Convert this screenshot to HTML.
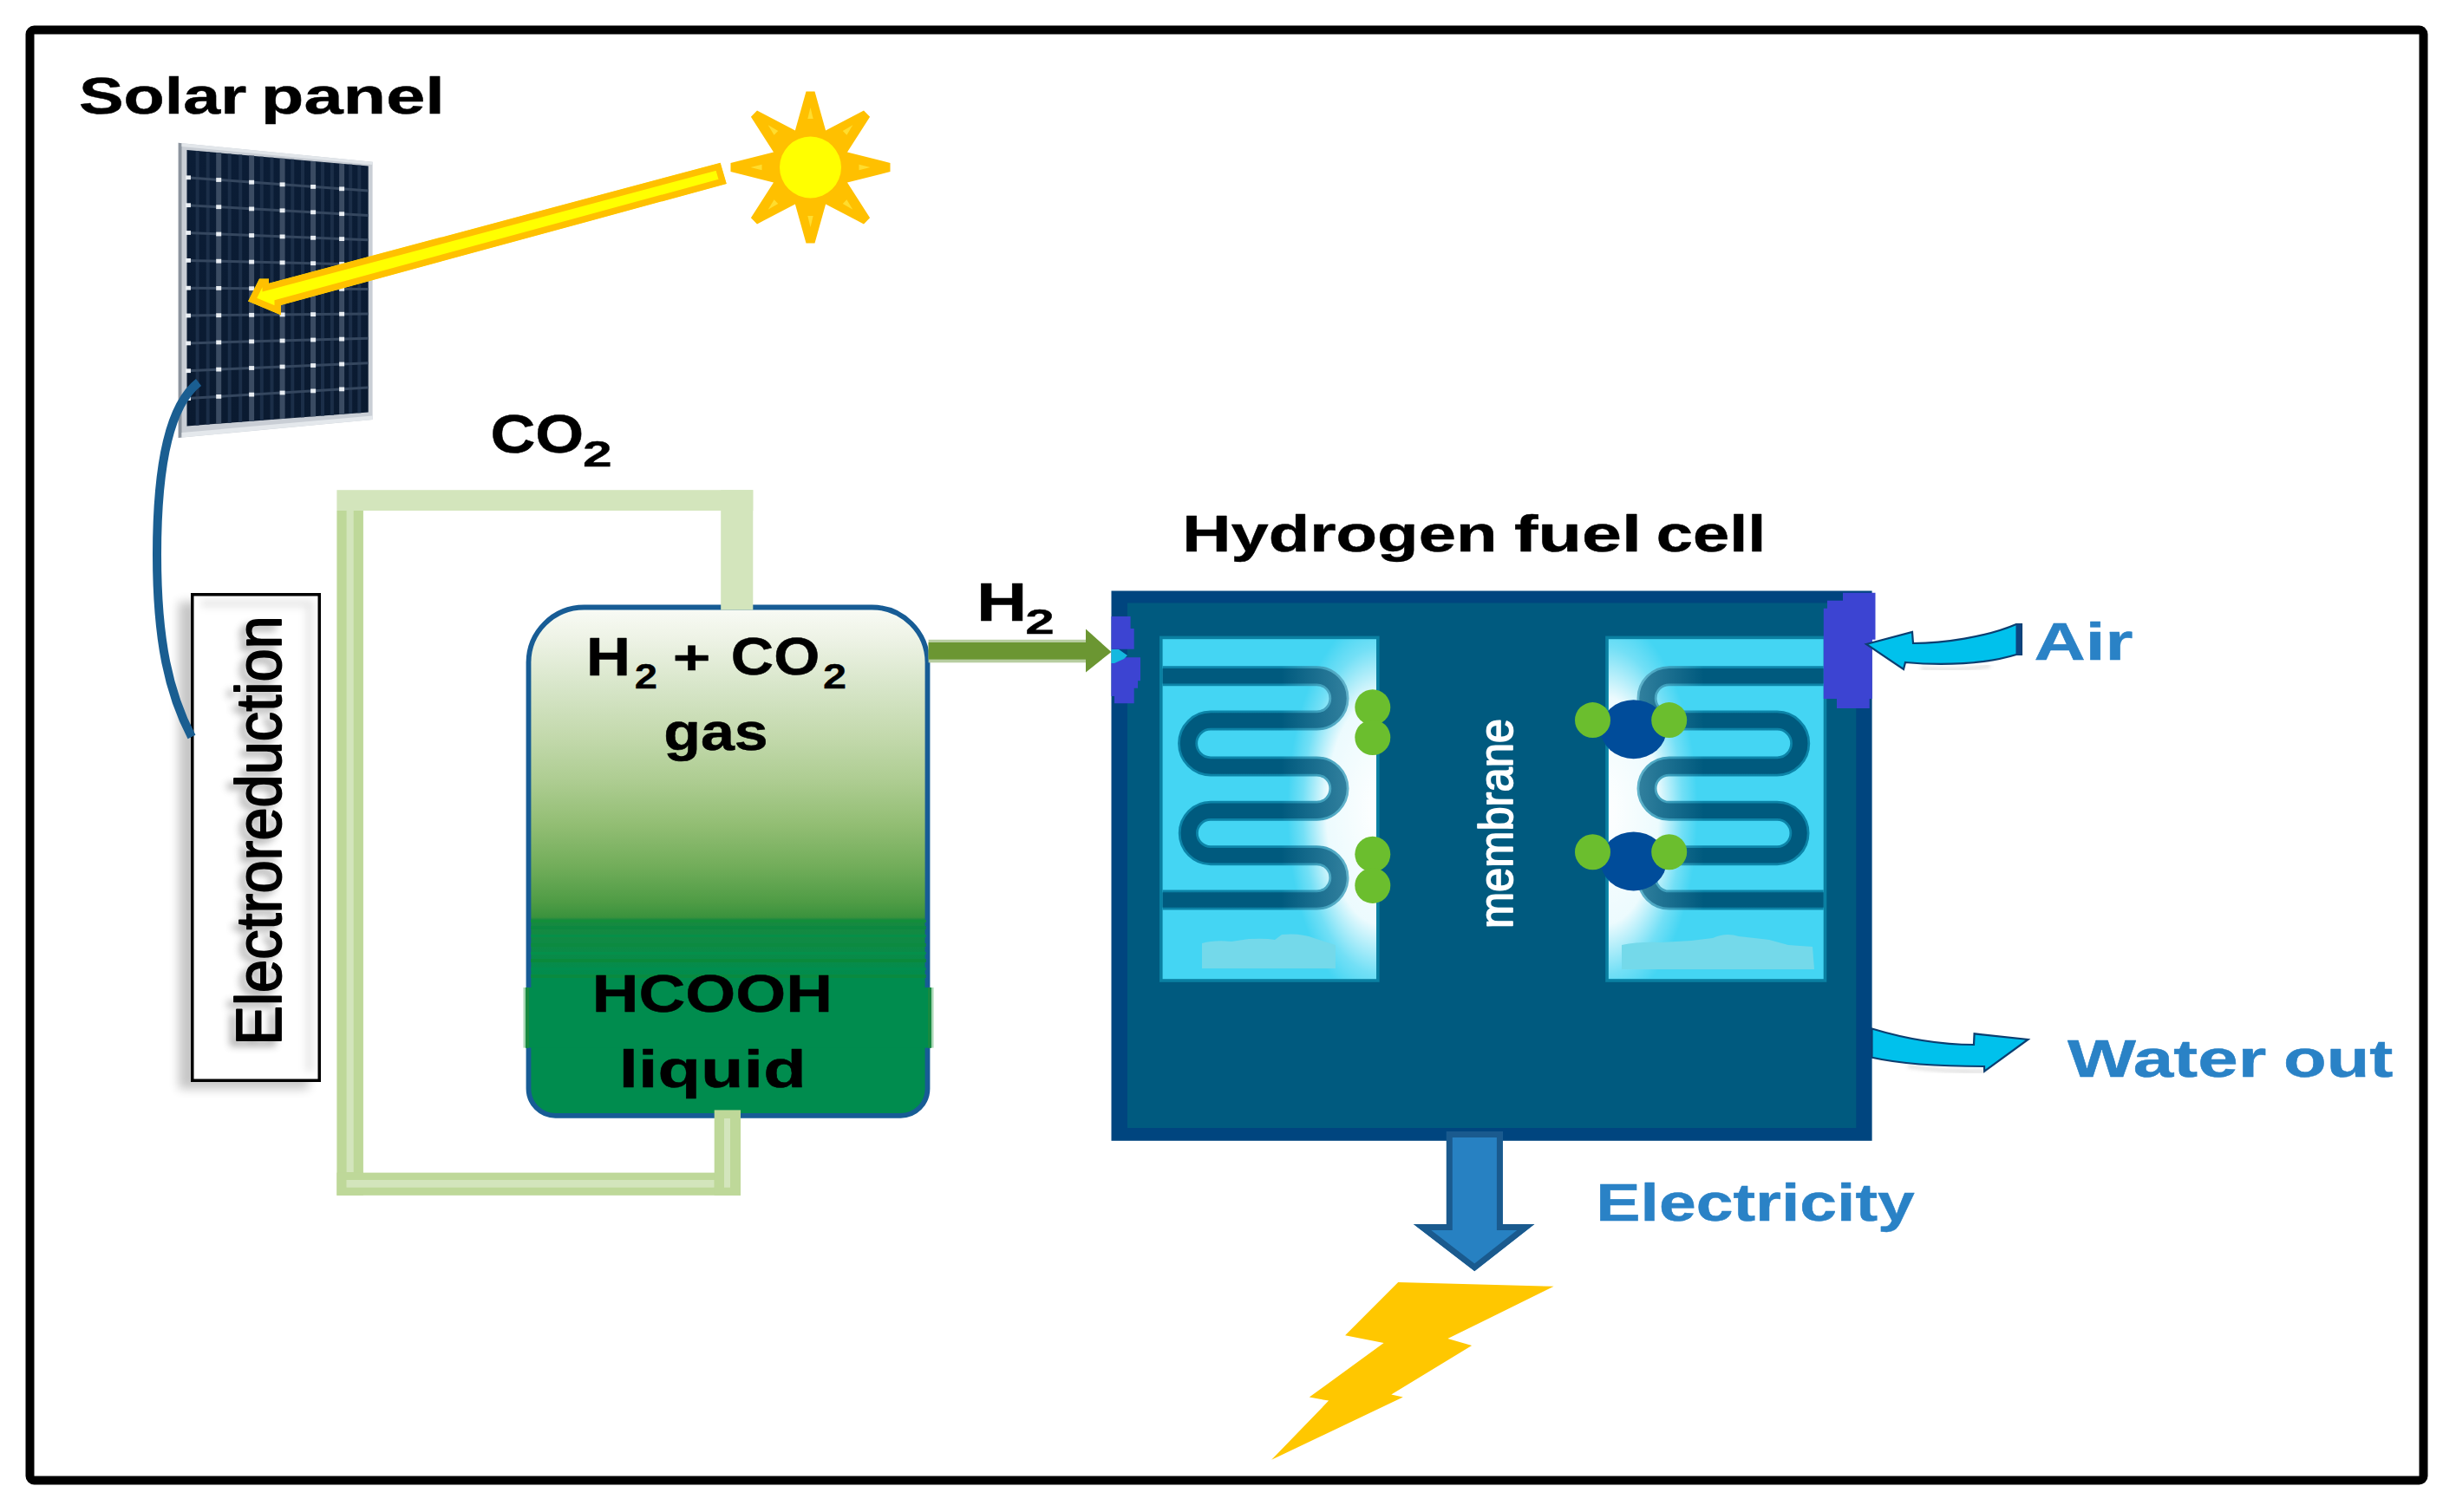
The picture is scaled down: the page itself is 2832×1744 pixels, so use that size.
<!DOCTYPE html>
<html><head><meta charset="utf-8"><title>Solar to hydrogen fuel cell diagram</title>
<style>html,body{margin:0;padding:0;background:#fff;}body{width:2832px;height:1744px;overflow:hidden;font-family:"Liberation Sans",sans-serif;}svg{display:block;}</style>
</head><body>
<svg width="2832" height="1744" viewBox="0 0 2832 1744">
<defs>
 <linearGradient id="tankG" x1="0" y1="700" x2="0" y2="1287" gradientUnits="userSpaceOnUse">
  <stop offset="0" stop-color="#F9FBF6"/>
  <stop offset="0.06" stop-color="#EEF3E6"/>
  <stop offset="0.153" stop-color="#D8E6CA"/>
  <stop offset="0.255" stop-color="#C3D9AC"/>
  <stop offset="0.34" stop-color="#AECD92"/>
  <stop offset="0.426" stop-color="#93BE74"/>
  <stop offset="0.51" stop-color="#72AD5A"/>
  <stop offset="0.58" stop-color="#4F9C45"/>
  <stop offset="0.61" stop-color="#3A923D"/>
  <stop offset="0.615" stop-color="#17893F"/>
  <stop offset="0.73" stop-color="#008C4E"/>
  <stop offset="1" stop-color="#008C4E"/>
 </linearGradient>
 <linearGradient id="cellG" x1="0" y1="170" x2="0" y2="495" gradientUnits="userSpaceOnUse">
  <stop offset="0" stop-color="#0B1D36"/>
  <stop offset="1" stop-color="#0A1A30"/>
 </linearGradient>
 <radialGradient id="glowL" cx="1592" cy="935" r="125" gradientUnits="userSpaceOnUse" gradientTransform="translate(1592 935) scale(1 2.1) translate(-1592 -935)">
  <stop offset="0" stop-color="#FFFFFF" stop-opacity="1"/>
  <stop offset="0.5" stop-color="#FFFFFF" stop-opacity="0.9"/>
  <stop offset="0.72" stop-color="#FFFFFF" stop-opacity="0.25"/>
  <stop offset="0.86" stop-color="#FFFFFF" stop-opacity="0"/>
 </radialGradient>
 <radialGradient id="glowR" cx="1850" cy="935" r="125" gradientUnits="userSpaceOnUse" gradientTransform="translate(1850 935) scale(1 2.1) translate(-1850 -935)">
  <stop offset="0" stop-color="#FFFFFF" stop-opacity="1"/>
  <stop offset="0.5" stop-color="#FFFFFF" stop-opacity="0.9"/>
  <stop offset="0.72" stop-color="#FFFFFF" stop-opacity="0.25"/>
  <stop offset="0.86" stop-color="#FFFFFF" stop-opacity="0"/>
 </radialGradient>
 <linearGradient id="tubeL" x1="1340" y1="0" x2="1590" y2="0" gradientUnits="userSpaceOnUse">
  <stop offset="0" stop-color="#005A7E"/>
  <stop offset="0.55" stop-color="#005A7E"/>
  <stop offset="1" stop-color="#4A93AE"/>
 </linearGradient>
 <linearGradient id="tubeR" x1="2102" y1="0" x2="1852" y2="0" gradientUnits="userSpaceOnUse">
  <stop offset="0" stop-color="#005A7E"/>
  <stop offset="0.55" stop-color="#005A7E"/>
  <stop offset="1" stop-color="#4A93AE"/>
 </linearGradient>
 <linearGradient id="tubeLe" x1="1340" y1="0" x2="1590" y2="0" gradientUnits="userSpaceOnUse">
  <stop offset="0" stop-color="#0C84A8"/>
  <stop offset="0.55" stop-color="#0C84A8"/>
  <stop offset="1" stop-color="#8CCADC"/>
 </linearGradient>
 <linearGradient id="tubeRe" x1="2102" y1="0" x2="1852" y2="0" gradientUnits="userSpaceOnUse">
  <stop offset="0" stop-color="#0C84A8"/>
  <stop offset="0.55" stop-color="#0C84A8"/>
  <stop offset="1" stop-color="#8CCADC"/>
 </linearGradient>
 <clipPath id="chL"><rect x="1340.6" y="737.2" width="246.4" height="392.5"/></clipPath>
 <clipPath id="chR"><rect x="1854.8" y="737.2" width="247.9" height="391.5"/></clipPath>
 <filter id="blur4" x="-20%" y="-20%" width="140%" height="140%"><feGaussianBlur stdDeviation="4"/></filter>
 <filter id="blur6" x="-20%" y="-20%" width="140%" height="140%"><feGaussianBlur stdDeviation="6"/></filter>
 <filter id="blur2" x="-20%" y="-20%" width="140%" height="140%"><feGaussianBlur stdDeviation="2"/></filter>
</defs>

<rect x="34.5" y="34.5" width="2760" height="1673" rx="5" fill="none" stroke="#000" stroke-width="10"/>
<polygon points="205.7,164.7 429.6,186.7 429.6,484.0 205.7,504.9" fill="#C9CED5"/>
<polygon points="205.7,164.7 209.5,165.2 209.5,504.5 205.7,504.9" fill="#8C949E"/>
<polygon points="209.5,165.2 429.6,186.7 429.6,190.0 209.5,169.0" fill="#E2E6EA"/>
<polygon points="209.5,499.0 429.6,479.5 429.6,484.0 209.5,504.5" fill="#E4E8EC"/>
<polygon points="215.5,173.0 424.7,191.6 424.7,475.5 215.5,491.4" fill="url(#cellG)"/>
<line x1="227.6" y1="174.1" x2="227.6" y2="490.5" stroke="#1B2E48" stroke-width="4"/>
<line x1="239.7" y1="175.2" x2="239.7" y2="489.6" stroke="#1B2E48" stroke-width="4"/>
<line x1="264.7" y1="177.4" x2="264.7" y2="487.7" stroke="#1B2E48" stroke-width="4"/>
<line x1="277.2" y1="178.5" x2="277.2" y2="486.7" stroke="#1B2E48" stroke-width="4"/>
<line x1="301.8" y1="180.7" x2="301.8" y2="484.8" stroke="#1B2E48" stroke-width="4"/>
<line x1="313.5" y1="181.7" x2="313.5" y2="483.9" stroke="#1B2E48" stroke-width="4"/>
<line x1="337.3" y1="183.8" x2="337.3" y2="482.1" stroke="#1B2E48" stroke-width="4"/>
<line x1="349.0" y1="184.9" x2="349.0" y2="481.3" stroke="#1B2E48" stroke-width="4"/>
<line x1="372.0" y1="186.9" x2="372.0" y2="479.5" stroke="#1B2E48" stroke-width="4"/>
<line x1="382.9" y1="187.9" x2="382.9" y2="478.7" stroke="#1B2E48" stroke-width="4"/>
<line x1="404.2" y1="189.8" x2="404.2" y2="477.1" stroke="#1B2E48" stroke-width="4"/>
<line x1="414.3" y1="190.7" x2="414.3" y2="476.3" stroke="#1B2E48" stroke-width="4"/>
<line x1="252.2" y1="176.3" x2="252.2" y2="488.6" stroke="#3A4B62" stroke-width="6"/>
<line x1="290.1" y1="179.6" x2="290.1" y2="485.7" stroke="#3A4B62" stroke-width="6"/>
<line x1="325.6" y1="182.8" x2="325.6" y2="483.0" stroke="#3A4B62" stroke-width="6"/>
<line x1="361.1" y1="185.9" x2="361.1" y2="480.3" stroke="#3A4B62" stroke-width="6"/>
<line x1="394.1" y1="188.9" x2="394.1" y2="477.8" stroke="#3A4B62" stroke-width="6"/>
<line x1="215.5" y1="204.8" x2="424.7" y2="220.0" stroke="#34465E" stroke-width="3"/>
<line x1="215.5" y1="236.7" x2="424.7" y2="248.4" stroke="#34465E" stroke-width="3"/>
<line x1="215.5" y1="268.5" x2="424.7" y2="276.8" stroke="#34465E" stroke-width="3"/>
<line x1="215.5" y1="300.4" x2="424.7" y2="305.2" stroke="#34465E" stroke-width="3"/>
<line x1="215.5" y1="332.2" x2="424.7" y2="333.6" stroke="#34465E" stroke-width="3"/>
<line x1="215.5" y1="364.0" x2="424.7" y2="361.9" stroke="#34465E" stroke-width="3"/>
<line x1="215.5" y1="395.9" x2="424.7" y2="390.3" stroke="#34465E" stroke-width="3"/>
<line x1="215.5" y1="427.7" x2="424.7" y2="418.7" stroke="#34465E" stroke-width="3"/>
<line x1="215.5" y1="459.6" x2="424.7" y2="447.1" stroke="#34465E" stroke-width="3"/>
<rect x="214.0" y="202.4" width="6" height="4.8" fill="#E8EDF2"/>
<rect x="249.2" y="205.1" width="6" height="4.8" fill="#E8EDF2"/>
<rect x="287.1" y="207.8" width="6" height="4.8" fill="#E8EDF2"/>
<rect x="322.6" y="210.4" width="6" height="4.8" fill="#E8EDF2"/>
<rect x="358.1" y="213.0" width="6" height="4.8" fill="#E8EDF2"/>
<rect x="391.1" y="215.4" width="6" height="4.8" fill="#E8EDF2"/>
<rect x="214.0" y="234.3" width="6" height="4.8" fill="#E8EDF2"/>
<rect x="249.2" y="236.3" width="6" height="4.8" fill="#E8EDF2"/>
<rect x="287.1" y="238.5" width="6" height="4.8" fill="#E8EDF2"/>
<rect x="322.6" y="240.4" width="6" height="4.8" fill="#E8EDF2"/>
<rect x="358.1" y="242.4" width="6" height="4.8" fill="#E8EDF2"/>
<rect x="391.1" y="244.3" width="6" height="4.8" fill="#E8EDF2"/>
<rect x="214.0" y="266.1" width="6" height="4.8" fill="#E8EDF2"/>
<rect x="249.2" y="267.6" width="6" height="4.8" fill="#E8EDF2"/>
<rect x="287.1" y="269.1" width="6" height="4.8" fill="#E8EDF2"/>
<rect x="322.6" y="270.5" width="6" height="4.8" fill="#E8EDF2"/>
<rect x="358.1" y="271.9" width="6" height="4.8" fill="#E8EDF2"/>
<rect x="391.1" y="273.2" width="6" height="4.8" fill="#E8EDF2"/>
<rect x="214.0" y="298.0" width="6" height="4.8" fill="#E8EDF2"/>
<rect x="249.2" y="298.8" width="6" height="4.8" fill="#E8EDF2"/>
<rect x="287.1" y="299.7" width="6" height="4.8" fill="#E8EDF2"/>
<rect x="322.6" y="300.5" width="6" height="4.8" fill="#E8EDF2"/>
<rect x="358.1" y="301.3" width="6" height="4.8" fill="#E8EDF2"/>
<rect x="391.1" y="302.1" width="6" height="4.8" fill="#E8EDF2"/>
<rect x="214.0" y="329.8" width="6" height="4.8" fill="#E8EDF2"/>
<rect x="249.2" y="330.0" width="6" height="4.8" fill="#E8EDF2"/>
<rect x="287.1" y="330.3" width="6" height="4.8" fill="#E8EDF2"/>
<rect x="322.6" y="330.5" width="6" height="4.8" fill="#E8EDF2"/>
<rect x="358.1" y="330.7" width="6" height="4.8" fill="#E8EDF2"/>
<rect x="391.1" y="331.0" width="6" height="4.8" fill="#E8EDF2"/>
<rect x="214.0" y="361.6" width="6" height="4.8" fill="#E8EDF2"/>
<rect x="249.2" y="361.3" width="6" height="4.8" fill="#E8EDF2"/>
<rect x="287.1" y="360.9" width="6" height="4.8" fill="#E8EDF2"/>
<rect x="322.6" y="360.5" width="6" height="4.8" fill="#E8EDF2"/>
<rect x="358.1" y="360.2" width="6" height="4.8" fill="#E8EDF2"/>
<rect x="391.1" y="359.8" width="6" height="4.8" fill="#E8EDF2"/>
<rect x="214.0" y="393.5" width="6" height="4.8" fill="#E8EDF2"/>
<rect x="249.2" y="392.5" width="6" height="4.8" fill="#E8EDF2"/>
<rect x="287.1" y="391.5" width="6" height="4.8" fill="#E8EDF2"/>
<rect x="322.6" y="390.6" width="6" height="4.8" fill="#E8EDF2"/>
<rect x="358.1" y="389.6" width="6" height="4.8" fill="#E8EDF2"/>
<rect x="391.1" y="388.7" width="6" height="4.8" fill="#E8EDF2"/>
<rect x="214.0" y="425.3" width="6" height="4.8" fill="#E8EDF2"/>
<rect x="249.2" y="423.7" width="6" height="4.8" fill="#E8EDF2"/>
<rect x="287.1" y="422.1" width="6" height="4.8" fill="#E8EDF2"/>
<rect x="322.6" y="420.6" width="6" height="4.8" fill="#E8EDF2"/>
<rect x="358.1" y="419.1" width="6" height="4.8" fill="#E8EDF2"/>
<rect x="391.1" y="417.6" width="6" height="4.8" fill="#E8EDF2"/>
<rect x="214.0" y="457.2" width="6" height="4.8" fill="#E8EDF2"/>
<rect x="249.2" y="455.0" width="6" height="4.8" fill="#E8EDF2"/>
<rect x="287.1" y="452.7" width="6" height="4.8" fill="#E8EDF2"/>
<rect x="322.6" y="450.6" width="6" height="4.8" fill="#E8EDF2"/>
<rect x="358.1" y="448.5" width="6" height="4.8" fill="#E8EDF2"/>
<rect x="391.1" y="446.5" width="6" height="4.8" fill="#E8EDF2"/>
<clipPath id="yac"><polygon points="286.0,347.6 299.0,321.5 310.0,321.5 310.0,326.8 830.7,187.7 837.8,212.0 324.0,352.0 324.0,363.5"/></clipPath>
<polygon points="286.0,347.6 299.0,321.5 310.0,321.5 310.0,326.8 830.7,187.7 837.8,212.0 324.0,352.0 324.0,363.5" fill="#FFFF00" stroke="#FFC000" stroke-width="15" stroke-linejoin="miter" clip-path="url(#yac)"/>
<polygon points="929.5,105.5 939.5,105.5 952.1,150.5 996.0,127.6 1003.1,134.7 977.0,175.4 1026.5,188.0 1026.5,198.0 977.0,210.6 1003.1,251.3 996.0,258.4 952.1,235.5 939.5,280.5 929.5,280.5 916.9,235.5 873.0,258.4 865.9,251.3 892.0,210.6 842.5,198.0 842.5,188.0 892.0,175.4 865.9,134.7 873.0,127.6 916.9,150.5" fill="#FFC000"/>
<polygon points="934.5,124.0 937.7,137.0 931.3,137.0" fill="#FFDD2E"/>
<polygon points="983.3,144.2 976.4,155.7 971.8,151.1" fill="#FFDD2E"/>
<polygon points="1003.5,193.0 990.5,196.2 990.5,189.8" fill="#FFDD2E"/>
<polygon points="983.3,241.8 971.8,234.9 976.4,230.3" fill="#FFDD2E"/>
<polygon points="934.5,262.0 931.3,249.0 937.7,249.0" fill="#FFDD2E"/>
<polygon points="885.7,241.8 892.6,230.3 897.2,234.9" fill="#FFDD2E"/>
<polygon points="865.5,193.0 878.5,189.8 878.5,196.2" fill="#FFDD2E"/>
<polygon points="885.7,144.2 897.2,151.1 892.6,155.7" fill="#FFDD2E"/>
<circle cx="934.5" cy="193.0" r="35.5" fill="#FFFF00"/>
<rect x="206" y="694" width="150" height="562" fill="#000" opacity="0.22" filter="url(#blur6)"/>
<rect x="221.75" y="685.75" width="146.5" height="560.5" fill="#FFFFFF"/>
<path d="M232,696 L357,696 L357,1236" fill="none" stroke="#000" stroke-opacity="0.09" stroke-width="9" filter="url(#blur4)"/>
<rect x="221.75" y="685.75" width="146.5" height="560.5" fill="none" stroke="#000" stroke-width="3.5"/>
<path d="M229,441 C197,466 181,530 181,640 C181,740 195,800 221,850" fill="none" stroke="#1A5E91" stroke-width="10"/>
<rect x="388.4" y="589" width="30.5" height="789.8" fill="#BED899"/>
<rect x="399.6" y="589" width="8.1" height="763" fill="#D3E5BC"/>
<rect x="388.4" y="1352.6" width="465.6" height="26.2" fill="#BED899"/>
<rect x="399.5" y="1361" width="424.2" height="8.7" fill="#D3E5BC"/>
<rect x="388.4" y="565.2" width="479.9" height="23.8" fill="#D3E5BC"/>
<path d="M673.5,700.5 H1005.5 A64,64 0 0 1 1069.5,764.5 V1255.8 A31,31 0 0 1 1038.5,1286.8 H640.5 A31,31 0 0 1 609.5,1255.8 V764.5 A64,64 0 0 1 673.5,700.5 Z" fill="url(#tankG)" stroke="#175C95" stroke-width="5.8"/>
<rect x="612" y="1061" width="456" height="3" fill="#12903A" opacity="0.8"/>
<rect x="612" y="1068" width="456" height="4" fill="#0A8840" opacity="0.8"/>
<rect x="612" y="1078" width="456" height="3" fill="#04904A" opacity="0.8"/>
<rect x="612" y="1088" width="456" height="4" fill="#0C8A3E" opacity="0.8"/>
<rect x="612" y="1098" width="456" height="3" fill="#02914C" opacity="0.8"/>
<rect x="612" y="1106" width="456" height="4" fill="#0A8838" opacity="0.8"/>
<rect x="612" y="1116" width="456" height="3" fill="#008F50" opacity="0.8"/>
<rect x="612" y="1124" width="456" height="4" fill="#0B8A3C" opacity="0.8"/>
<rect x="603.5" y="1139" width="3" height="69.6" fill="#A8D6B4"/>
<rect x="1073.5" y="1139" width="3" height="69.6" fill="#A8D6B4"/>
<rect x="606" y="1139" width="468" height="69.6" fill="#008C4E"/>
<rect x="606" y="1139" width="4" height="69.6" fill="#178A40"/>
<rect x="1070" y="1139" width="4" height="69.6" fill="#178A40"/>
<rect x="831.2" y="565.2" width="37.1" height="138.3" fill="#D3E5BC"/>
<rect x="823.7" y="1280.4" width="30.3" height="98.4" fill="#BED899"/>
<rect x="835" y="1290" width="7" height="79.7" fill="#D3E5BC"/>
<rect x="1070.6" y="737.8" width="181.5" height="26.5" fill="#B7CDA0"/>
<rect x="1070.6" y="741" width="181.5" height="19.6" fill="#6B9632"/>
<polygon points="1252.0,725.6 1281.5,752.0 1252.0,775.4" fill="#6B9632"/>
<rect x="1281.5" y="681.5" width="877.1" height="634.3" fill="#00457F"/>
<rect x="1300" y="695.5" width="840.3" height="605.5" fill="#005A7F"/>
<rect x="1338.8" y="735.4" width="250.0" height="395.6" fill="#44D5F3" stroke="#0A80A2" stroke-width="3.6"/>
<rect x="1340.6" y="737.2" width="246.4" height="392" fill="url(#glowL)" clip-path="url(#chL)"/>
<rect x="1853.0" y="735.4" width="251.5" height="395.6" fill="#44D5F3" stroke="#0A80A2" stroke-width="3.6"/>
<rect x="1854.8" y="737.2" width="247.9" height="392" fill="url(#glowR)" clip-path="url(#chR)"/>
<path d="M1386,1117 L1386,1088 Q1400,1084 1420,1086 L1440,1083 Q1460,1082 1470,1084 L1478,1078 Q1500,1076 1515,1082 L1540,1090 L1540,1117 Z" fill="#74D9EA"/>
<path d="M1870,1118 L1870,1090 Q1890,1086 1915,1087 L1950,1085 L1975,1082 Q1990,1075 2005,1080 L2040,1084 L2062,1090 L2090,1092 L2092,1118 Z" fill="#74D9EA"/>
<path d="M1340.6,779.7 L1518.3,779.7 A25.70,25.70 0 0 1 1518.3,831.1 L1396,831.1 A25.70,25.70 0 0 0 1396,883.9 L1518.3,883.9 A25.70,25.70 0 0 1 1518.3,935.3 L1396,935.3 A25.70,25.70 0 0 0 1396,986.7 L1518.3,986.7 A25.70,25.70 0 0 1 1518.3,1038.1 L1340.6,1038.1" fill="none" stroke="url(#tubeLe)" stroke-width="23"/>
<path d="M2102.7,779.7 L1924.7,779.7 A25.70,25.70 0 0 0 1924.7,831.1 L2049.3,831.1 A25.70,25.70 0 0 1 2049.3,883.9 L1924.7,883.9 A25.70,25.70 0 0 0 1924.7,935.3 L2049.3,935.3 A25.70,25.70 0 0 1 2049.3,986.7 L1924.7,986.7 A25.70,25.70 0 0 0 1924.7,1038.1 L2102.7,1038.1" fill="none" stroke="url(#tubeRe)" stroke-width="23"/>
<path d="M1340.6,779.7 L1518.3,779.7 A25.70,25.70 0 0 1 1518.3,831.1 L1396,831.1 A25.70,25.70 0 0 0 1396,883.9 L1518.3,883.9 A25.70,25.70 0 0 1 1518.3,935.3 L1396,935.3 A25.70,25.70 0 0 0 1396,986.7 L1518.3,986.7 A25.70,25.70 0 0 1 1518.3,1038.1 L1340.6,1038.1" fill="none" stroke="url(#tubeL)" stroke-width="17.5"/>
<path d="M2102.7,779.7 L1924.7,779.7 A25.70,25.70 0 0 0 1924.7,831.1 L2049.3,831.1 A25.70,25.70 0 0 1 2049.3,883.9 L1924.7,883.9 A25.70,25.70 0 0 0 1924.7,935.3 L2049.3,935.3 A25.70,25.70 0 0 1 2049.3,986.7 L1924.7,986.7 A25.70,25.70 0 0 0 1924.7,1038.1 L2102.7,1038.1" fill="none" stroke="url(#tubeR)" stroke-width="17.5"/>
<ellipse cx="1883.7" cy="841.2" rx="38" ry="34" fill="#004C9A"/>
<ellipse cx="1883.7" cy="993.4" rx="38" ry="34" fill="#004C9A"/>
<circle cx="1836.5" cy="830.6" r="20.5" fill="#6BBE2E"/>
<circle cx="1924.7" cy="830.6" r="20.5" fill="#6BBE2E"/>
<circle cx="1836.5" cy="982.7" r="20.5" fill="#6BBE2E"/>
<circle cx="1924.7" cy="982.7" r="20.5" fill="#6BBE2E"/>
<circle cx="1582.8" cy="815.8" r="20.5" fill="#6BBE2E"/>
<circle cx="1582.8" cy="850.6" r="20.5" fill="#6BBE2E"/>
<circle cx="1582.8" cy="985.3" r="20.5" fill="#6BBE2E"/>
<circle cx="1582.8" cy="1021.4" r="20.5" fill="#6BBE2E"/>
<polygon points="1281.5,711.0 1303.6,711.0 1303.6,725.0 1307.7,725.0 1307.7,748.7 1281.5,748.7" fill="#3C44D2"/>
<polygon points="1285.0,758.3 1315.0,758.3 1315.0,785.3 1312.0,785.3 1312.0,793.7 1307.7,793.7 1307.7,811.2 1285.0,811.2 1285.0,803.0 1281.5,803.0 1281.5,765.0 1285.0,765.0" fill="#3C44D2"/>
<polygon points="1281.5,749 1290,749 1300,756 1296,760 1285,765 1281.5,765" fill="#14B8E0"/>
<polygon points="2125.0,683.8 2162.5,683.8 2162.5,737.7 2158.8,737.7 2158.8,806.0 2155.7,806.0 2155.7,817.0 2118.0,817.0 2118.0,806.0 2102.8,806.0 2102.8,701.7 2107.0,701.7 2107.0,692.8 2125.0,692.8" fill="#3C44D2"/>
<path d="M2215,771 C2240,773 2270,772 2295,768" fill="none" stroke="#888" stroke-opacity="0.35" stroke-width="3" filter="url(#blur2)"/>
<path d="M2152,743 L2205,729 L2206,742 C2240,742 2290,735 2325,720 L2331,720 L2331,755 L2325,755 C2290,766 2240,768 2197,764 L2195,772 Z" fill="#00C1EC" stroke="#0B3E70" stroke-width="2.2" stroke-linejoin="miter"/>
<rect x="2324.5" y="720" width="6.5" height="35" fill="#0D4480"/>
<path d="M2200,1230 C2240,1236 2270,1236 2290,1236" fill="none" stroke="#888" stroke-opacity="0.35" stroke-width="3" filter="url(#blur2)"/>
<path d="M2158.5,1186.5 C2190,1196 2230,1205 2276,1205 L2276.6,1192.3 L2338.5,1199 L2288.2,1235.7 L2288,1230 C2240,1230 2195,1228 2158.5,1219.8 Z" fill="#00C1EC" stroke="#0B3E70" stroke-width="2.2" stroke-linejoin="miter"/>
<clipPath id="eac"><polygon points="1667.8,1305.0 1732.9,1305.0 1732.9,1412.0 1769.5,1412.0 1700.3,1466.3 1629.8,1412.0 1667.8,1412.0"/></clipPath>
<polygon points="1667.8,1305.0 1732.9,1305.0 1732.9,1412.0 1769.5,1412.0 1700.3,1466.3 1629.8,1412.0 1667.8,1412.0" fill="#2781C2" stroke="#1A5A8E" stroke-width="14" clip-path="url(#eac)"/>
<polygon points="1612.2,1479.0 1791.6,1483.8 1669.4,1544.1 1697.1,1552.1 1604.3,1608.4 1617.8,1611.6 1466.2,1683.8 1532.1,1615.6 1509.8,1611.6 1595.6,1548.9 1551.1,1540.2" fill="#FFC700"/>
<g font-family="Liberation Sans, sans-serif"><text transform="translate(91.08 130.90) scale(0.7727 0.5934)" font-size="100" font-weight="700" fill="#000" stroke="#000" stroke-width="0.8" stroke-linejoin="round">Solar</text><text transform="translate(300.82 130.90) scale(0.8121 0.5934)" font-size="100" font-weight="700" fill="#000" stroke="#000" stroke-width="0.8" stroke-linejoin="round">panel</text><text transform="translate(565.42 522.38) scale(0.7189 0.6219)" font-size="100" font-weight="700" fill="#000" stroke="#000" stroke-width="0.8" stroke-linejoin="round">CO</text><text transform="translate(671.88 538.40) scale(0.6052 0.4244)" font-size="100" font-weight="700" fill="#000" stroke="#000" stroke-width="0.8" stroke-linejoin="round">2</text><text transform="translate(1126.04 715.60) scale(0.8085 0.6240)" font-size="100" font-weight="700" fill="#000" stroke="#000" stroke-width="0.8" stroke-linejoin="round">H</text><text transform="translate(1182.29 730.90) scale(0.6031 0.4100)" font-size="100" font-weight="700" fill="#000" stroke="#000" stroke-width="0.8" stroke-linejoin="round">2</text><text transform="translate(1363.25 635.50) scale(0.7784 0.5972)" font-size="100" font-weight="700" fill="#000" stroke="#000" stroke-width="0.8" stroke-linejoin="round">Hydrogen</text><text transform="translate(1746.05 635.50) scale(0.8266 0.5972)" font-size="100" font-weight="700" fill="#000" stroke="#000" stroke-width="0.8" stroke-linejoin="round">fuel</text><text transform="translate(1909.76 635.50) scale(0.7596 0.5972)" font-size="100" font-weight="700" fill="#000" stroke="#000" stroke-width="0.8" stroke-linejoin="round">cell</text><text transform="translate(676.03 778.80) scale(0.7064 0.6371)" font-size="100" font-weight="700" fill="#000" stroke="#000" stroke-width="0.8" stroke-linejoin="round">H</text><text transform="translate(731.75 793.60) scale(0.4725 0.4100)" font-size="100" font-weight="700" fill="#000" stroke="#000" stroke-width="0.8" stroke-linejoin="round">2</text><text transform="translate(775.82 776.92) scale(0.7480 0.5569)" font-size="100" font-weight="700" fill="#000" stroke="#000" stroke-width="0.8" stroke-linejoin="round">+</text><text transform="translate(842.77 778.18) scale(0.6836 0.6191)" font-size="100" font-weight="700" fill="#000" stroke="#000" stroke-width="0.8" stroke-linejoin="round">CO</text><text transform="translate(949.00 793.60) scale(0.4870 0.4100)" font-size="100" font-weight="700" fill="#000" stroke="#000" stroke-width="0.8" stroke-linejoin="round">2</text><text transform="translate(765.20 864.70) scale(0.6995 0.6047)" font-size="100" font-weight="700" fill="#000" stroke="#000" stroke-width="0.8" stroke-linejoin="round">gas</text><text transform="translate(682.67 1166.79) scale(0.7456 0.6148)" font-size="100" font-weight="700" fill="#000" stroke="#000" stroke-width="0.8" stroke-linejoin="round">HCOOH</text><text transform="translate(713.53 1253.90) scale(0.8107 0.6104)" font-size="100" font-weight="700" fill="#000" stroke="#000" stroke-width="0.8" stroke-linejoin="round">liquid</text><text transform="translate(2345.55 760.90) scale(0.8207 0.6047)" font-size="100" font-weight="700" fill="#2A82C6" stroke="#2A82C6" stroke-width="0.8" stroke-linejoin="round">Air</text><text transform="translate(2383.90 1241.50) scale(0.8370 0.6028)" font-size="100" font-weight="700" fill="#2A82C6" stroke="#2A82C6" stroke-width="0.8" stroke-linejoin="round">Water</text><text transform="translate(2632.95 1241.50) scale(0.8133 0.6028)" font-size="100" font-weight="700" fill="#2A82C6" stroke="#2A82C6" stroke-width="0.8" stroke-linejoin="round">out</text><text transform="translate(1840.21 1408.00) scale(0.7692 0.6180)" font-size="100" font-weight="700" fill="#2A82C6" stroke="#2A82C6" stroke-width="0.8" stroke-linejoin="round">Electricity</text><text transform="translate(1744.20 1071.12) rotate(-90) scale(0.5067 0.5536)" font-size="100" font-weight="400" fill="#FFFFFF" stroke="#FFFFFF" stroke-width="3" stroke-linejoin="round">membrane</text><g filter="url(#blur4)" opacity="0.45" transform="translate(-7 6)"><text transform="translate(323.80 1205.86) rotate(-90) scale(0.6860 0.7469)" font-size="100" font-weight="400" fill="#555" stroke="#555" stroke-width="2.5" stroke-linejoin="round">Electroreduction</text></g><text transform="translate(323.80 1205.86) rotate(-90) scale(0.6860 0.7469)" font-size="100" font-weight="400" fill="#000" stroke="#000" stroke-width="2.5" stroke-linejoin="round">Electroreduction</text></g></svg>
</body></html>
